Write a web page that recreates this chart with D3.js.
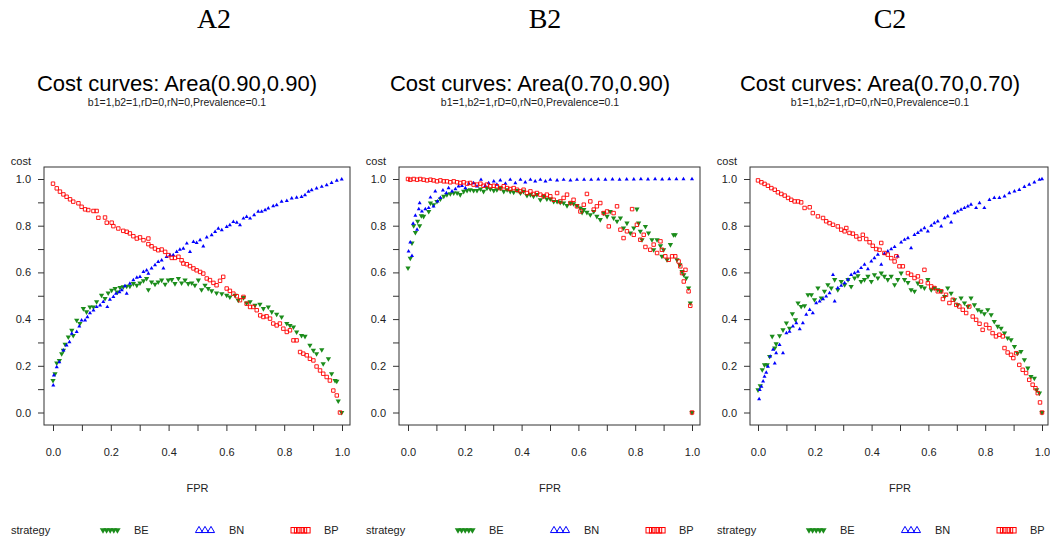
<!DOCTYPE html>
<html>
<head>
<meta charset="utf-8">
<script src="https://cdn.jsdelivr.net/npm/d3@7"></script>
<style>
  body { margin: 0; background: #fff; }
  text { font-family: "Liberation Sans", Arial, sans-serif; fill: #222; }
</style>
</head>
<body>
<script>
// strategies and panel labels
const strategies = ["BE", "BN", "BP"];
const panelLabels = ["A2", "B2", "C2"];
const panelTitles = ["Cost curves: Area(0.90,0.90)", "Cost curves: Area(0.70,0.90)", "Cost curves: Area(0.70,0.70)"];
const subTitle = "b1=1,b2=1,rD=0,rN=0,Prevalence=0.1";
const xTicks = [0, 0.1, 0.2, 0.3, 0.4, 0.5, 0.6, 0.7, 0.8, 0.9, 1.0];
const yTicks = [0, 0.1, 0.2, 0.3, 0.4, 0.5, 0.6, 0.7, 0.8, 0.9, 1.0];

// [FPR, cost]
const a2BE = [[0,0.137],[0.007,0.166],[0.013,0.212],[0.022,0.223],[0.03,0.252],[0.036,0.266],[0.042,0.292],[0.053,0.323],[0.065,0.352],[0.07,0.33],[0.082,0.395],[0.093,0.381],[0.105,0.445],[0.116,0.431],[0.128,0.452],[0.14,0.452],[0.151,0.474],[0.168,0.502],[0.18,0.488],[0.191,0.512],[0.203,0.524],[0.215,0.531],[0.223,0.516],[0.232,0.535],[0.243,0.538],[0.255,0.541],[0.266,0.541],[0.278,0.552],[0.29,0.545],[0.301,0.555],[0.313,0.564],[0.324,0.574],[0.33,0.526],[0.341,0.559],[0.353,0.549],[0.364,0.559],[0.376,0.567],[0.388,0.549],[0.399,0.567],[0.411,0.569],[0.422,0.552],[0.434,0.574],[0.445,0.555],[0.457,0.567],[0.468,0.552],[0.48,0.555],[0.491,0.545],[0.503,0.567],[0.514,0.526],[0.526,0.545],[0.537,0.531],[0.549,0.521],[0.566,0.512],[0.584,0.509],[0.601,0.502],[0.612,0.495],[0.63,0.502],[0.641,0.481],[0.659,0.492],[0.67,0.469],[0.682,0.474],[0.699,0.459],[0.716,0.464],[0.728,0.445],[0.745,0.452],[0.757,0.431],[0.774,0.421],[0.791,0.409],[0.809,0.381],[0.82,0.373],[0.832,0.366],[0.843,0.345],[0.86,0.33],[0.872,0.326],[0.889,0.288],[0.901,0.266],[0.912,0.252],[0.93,0.269],[0.935,0.209],[0.953,0.23],[0.964,0.166],[0.976,0.137],[0.982,0.134],[0.987,0.049],[0.999,0]];
const a2BN = [[0.001,0.116],[0.003,0.159],[0.013,0.195],[0.022,0.216],[0.036,0.266],[0.047,0.288],[0.057,0.302],[0.065,0.338],[0.082,0.345],[0.091,0.369],[0.099,0.395],[0.111,0.395],[0.119,0.409],[0.128,0.426],[0.14,0.438],[0.151,0.452],[0.163,0.459],[0.174,0.474],[0.188,0.452],[0.197,0.484],[0.209,0.495],[0.218,0.509],[0.23,0.516],[0.238,0.524],[0.249,0.541],[0.255,0.509],[0.266,0.552],[0.278,0.567],[0.29,0.578],[0.301,0.581],[0.313,0.602],[0.324,0.609],[0.33,0.595],[0.341,0.617],[0.353,0.631],[0.364,0.645],[0.376,0.652],[0.382,0.617],[0.393,0.667],[0.405,0.674],[0.416,0.674],[0.428,0.688],[0.439,0.698],[0.451,0.702],[0.463,0.724],[0.474,0.688],[0.486,0.731],[0.497,0.727],[0.509,0.738],[0.52,0.712],[0.532,0.75],[0.549,0.76],[0.561,0.774],[0.572,0.788],[0.584,0.781],[0.601,0.795],[0.612,0.803],[0.624,0.817],[0.636,0.813],[0.647,0.803],[0.659,0.831],[0.67,0.838],[0.682,0.831],[0.696,0.845],[0.71,0.86],[0.722,0.86],[0.734,0.867],[0.745,0.874],[0.762,0.884],[0.774,0.888],[0.791,0.903],[0.809,0.907],[0.826,0.917],[0.843,0.92],[0.86,0.924],[0.872,0.931],[0.884,0.946],[0.895,0.953],[0.912,0.96],[0.93,0.967],[0.947,0.974],[0.964,0.984],[0.982,0.993],[0.999,0.999]];
const a2BP = [[0,0.98],[0.013,0.96],[0.024,0.946],[0.036,0.934],[0.047,0.924],[0.059,0.913],[0.07,0.903],[0.088,0.896],[0.099,0.881],[0.111,0.87],[0.122,0.867],[0.14,0.863],[0.151,0.863],[0.157,0.834],[0.18,0.835],[0.186,0.813],[0.203,0.813],[0.209,0.798],[0.226,0.788],[0.243,0.778],[0.255,0.774],[0.266,0.767],[0.278,0.755],[0.29,0.745],[0.301,0.75],[0.313,0.738],[0.33,0.745],[0.33,0.721],[0.341,0.712],[0.353,0.702],[0.364,0.695],[0.376,0.698],[0.388,0.688],[0.399,0.674],[0.411,0.662],[0.422,0.662],[0.434,0.667],[0.445,0.652],[0.451,0.638],[0.463,0.635],[0.474,0.627],[0.486,0.617],[0.497,0.609],[0.509,0.602],[0.52,0.595],[0.532,0.574],[0.543,0.567],[0.555,0.555],[0.566,0.545],[0.578,0.564],[0.589,0.581],[0.601,0.531],[0.612,0.521],[0.624,0.509],[0.636,0.498],[0.647,0.481],[0.659,0.495],[0.67,0.466],[0.682,0.452],[0.693,0.452],[0.705,0.438],[0.717,0.416],[0.728,0.409],[0.739,0.412],[0.751,0.402],[0.762,0.381],[0.774,0.373],[0.785,0.381],[0.797,0.359],[0.809,0.345],[0.82,0.352],[0.832,0.309],[0.843,0.309],[0.855,0.259],[0.866,0.252],[0.878,0.245],[0.889,0.23],[0.901,0.223],[0.912,0.197],[0.924,0.18],[0.935,0.166],[0.947,0.152],[0.958,0.137],[0.97,0.094],[0.982,0.073],[0.993,0]];

const b2BE = [[0,0.619],[0.008,0.661],[0.014,0.726],[0.02,0.8],[0.026,0.771],[0.034,0.819],[0.041,0.8],[0.047,0.843],[0.055,0.84],[0.073,0.861],[0.079,0.897],[0.09,0.89],[0.102,0.904],[0.114,0.914],[0.126,0.926],[0.137,0.933],[0.149,0.937],[0.161,0.94],[0.173,0.94],[0.184,0.933],[0.196,0.947],[0.208,0.951],[0.219,0.954],[0.231,0.951],[0.243,0.951],[0.255,0.957],[0.266,0.947],[0.278,0.961],[0.29,0.957],[0.302,0.951],[0.313,0.954],[0.325,0.961],[0.337,0.947],[0.349,0.954],[0.36,0.947],[0.372,0.943],[0.384,0.951],[0.396,0.94],[0.407,0.947],[0.419,0.929],[0.431,0.933],[0.442,0.926],[0.454,0.933],[0.466,0.911],[0.478,0.926],[0.489,0.914],[0.501,0.914],[0.513,0.904],[0.525,0.904],[0.536,0.9],[0.548,0.897],[0.56,0.886],[0.572,0.897],[0.583,0.894],[0.595,0.886],[0.607,0.876],[0.613,0.857],[0.619,0.869],[0.63,0.857],[0.642,0.847],[0.654,0.861],[0.665,0.84],[0.677,0.826],[0.689,0.854],[0.701,0.84],[0.712,0.861],[0.724,0.833],[0.736,0.819],[0.748,0.833],[0.759,0.79],[0.771,0.811],[0.783,0.769],[0.795,0.79],[0.806,0.871],[0.812,0.811],[0.818,0.776],[0.824,0.74],[0.836,0.797],[0.847,0.769],[0.859,0.74],[0.865,0.697],[0.877,0.74],[0.889,0.714],[0.894,0.669],[0.9,0.697],[0.912,0.654],[0.924,0.719],[0.935,0.761],[0.941,0.761],[0.947,0.654],[0.957,0.633],[0.965,0.604],[0.971,0.59],[0.98,0.576],[0.988,0.533],[0.994,0.469],[1.0,0]];
const b2BN = [[0.002,0.69],[0.008,0.729],[0.014,0.671],[0.018,0.809],[0.026,0.843],[0.032,0.783],[0.038,0.871],[0.041,0.897],[0.049,0.861],[0.061,0.871],[0.073,0.876],[0.079,0.921],[0.09,0.883],[0.096,0.947],[0.104,0.904],[0.114,0.919],[0.123,0.951],[0.135,0.94],[0.143,0.961],[0.155,0.947],[0.167,0.957],[0.178,0.969],[0.19,0.971],[0.202,0.961],[0.214,0.98],[0.231,0.983],[0.243,0.969],[0.257,0.997],[0.272,0.971],[0.284,0.983],[0.302,0.99],[0.313,0.976],[0.325,0.994],[0.343,0.98],[0.36,0.997],[0.378,0.983],[0.396,0.997],[0.413,0.986],[0.431,0.997],[0.448,0.99],[0.466,0.997],[0.484,0.99],[0.501,0.997],[0.525,0.994],[0.548,0.997],[0.572,0.994],[0.595,0.997],[0.62,0.998],[0.645,0.997],[0.67,0.999],[0.695,0.998],[0.72,0.999],[0.745,0.998],[0.77,0.999],[0.795,0.999],[0.82,1.0],[0.845,0.999],[0.87,1.0],[0.895,0.999],[0.92,1.0],[0.945,1.0],[0.97,1.0],[1.0,1.0]];
const b2BP = [[0,1.0],[0.008,0.997],[0.02,1.0],[0.032,0.997],[0.043,1.0],[0.055,0.997],[0.067,0.994],[0.079,0.997],[0.09,0.994],[0.102,0.99],[0.114,0.994],[0.126,0.99],[0.137,0.99],[0.149,0.986],[0.161,0.99],[0.173,0.986],[0.184,0.983],[0.196,0.986],[0.208,0.98],[0.219,0.983],[0.231,0.976],[0.243,0.976],[0.255,0.98],[0.266,0.971],[0.278,0.976],[0.29,0.969],[0.302,0.971],[0.313,0.969],[0.325,0.961],[0.337,0.969],[0.349,0.961],[0.36,0.957],[0.372,0.961],[0.384,0.954],[0.396,0.947],[0.407,0.954],[0.419,0.94],[0.431,0.947],[0.442,0.936],[0.454,0.94],[0.466,0.933],[0.478,0.926],[0.489,0.933],[0.501,0.926],[0.513,0.911],[0.525,0.94],[0.536,0.904],[0.548,0.919],[0.56,0.933],[0.572,0.897],[0.583,0.911],[0.595,0.883],[0.607,0.861],[0.619,0.89],[0.63,0.936],[0.642,0.904],[0.654,0.869],[0.665,0.883],[0.677,0.897],[0.689,0.854],[0.701,0.861],[0.707,0.797],[0.724,0.854],[0.736,0.883],[0.748,0.783],[0.759,0.747],[0.771,0.776],[0.789,0.871],[0.795,0.761],[0.806,0.804],[0.818,0.74],[0.83,0.761],[0.836,0.709],[0.853,0.697],[0.865,0.719],[0.877,0.683],[0.889,0.733],[0.894,0.697],[0.906,0.669],[0.918,0.654],[0.93,0.669],[0.941,0.669],[0.953,0.647],[0.959,0.626],[0.965,0.597],[0.971,0.561],[0.977,0.611],[0.988,0.519],[0.994,0.457],[1.0,0]];

const c2BE = [[0,0.097],[0.008,0.114],[0.015,0.183],[0.023,0.204],[0.032,0.204],[0.041,0.24],[0.05,0.326],[0.059,0.276],[0.064,0.294],[0.076,0.329],[0.088,0.354],[0.1,0.383],[0.111,0.361],[0.121,0.423],[0.132,0.397],[0.141,0.469],[0.152,0.454],[0.164,0.457],[0.176,0.504],[0.188,0.504],[0.199,0.483],[0.211,0.533],[0.223,0.49],[0.234,0.519],[0.246,0.547],[0.258,0.533],[0.27,0.569],[0.281,0.526],[0.293,0.561],[0.305,0.547],[0.317,0.569],[0.328,0.54],[0.34,0.576],[0.352,0.586],[0.363,0.561],[0.375,0.569],[0.387,0.583],[0.399,0.561],[0.41,0.59],[0.422,0.576],[0.434,0.597],[0.445,0.583],[0.457,0.569],[0.469,0.583],[0.481,0.547],[0.492,0.569],[0.504,0.597],[0.516,0.569],[0.528,0.557],[0.539,0.526],[0.551,0.519],[0.563,0.554],[0.574,0.54],[0.586,0.533],[0.598,0.569],[0.61,0.526],[0.621,0.533],[0.633,0.526],[0.645,0.519],[0.657,0.497],[0.668,0.533],[0.68,0.511],[0.692,0.483],[0.703,0.461],[0.715,0.49],[0.727,0.469],[0.739,0.454],[0.75,0.49],[0.762,0.461],[0.774,0.44],[0.785,0.433],[0.797,0.423],[0.809,0.44],[0.821,0.419],[0.832,0.39],[0.844,0.369],[0.856,0.361],[0.868,0.34],[0.879,0.319],[0.891,0.311],[0.903,0.283],[0.914,0.254],[0.926,0.261],[0.938,0.226],[0.95,0.19],[0.961,0.154],[0.973,0.147],[0.981,0.097],[0.991,0.083],[1.0,0]];
const c2BN = [[0.004,0.057],[0.006,0.097],[0.012,0.111],[0.018,0.133],[0.023,0.154],[0.029,0.171],[0.035,0.197],[0.043,0.24],[0.053,0.269],[0.059,0.211],[0.064,0.254],[0.076,0.29],[0.088,0.254],[0.1,0.34],[0.111,0.347],[0.123,0.369],[0.135,0.383],[0.147,0.357],[0.158,0.383],[0.17,0.419],[0.182,0.44],[0.193,0.426],[0.205,0.469],[0.217,0.476],[0.229,0.486],[0.24,0.497],[0.252,0.511],[0.264,0.59],[0.27,0.476],[0.281,0.533],[0.293,0.543],[0.305,0.554],[0.317,0.569],[0.328,0.59],[0.34,0.597],[0.352,0.604],[0.363,0.619],[0.375,0.633],[0.387,0.614],[0.399,0.647],[0.41,0.661],[0.422,0.676],[0.434,0.633],[0.445,0.68],[0.457,0.69],[0.469,0.7],[0.481,0.709],[0.492,0.669],[0.504,0.729],[0.516,0.74],[0.528,0.747],[0.539,0.704],[0.551,0.761],[0.563,0.769],[0.574,0.78],[0.586,0.79],[0.598,0.776],[0.61,0.8],[0.621,0.811],[0.633,0.819],[0.645,0.797],[0.657,0.833],[0.668,0.84],[0.68,0.814],[0.692,0.854],[0.703,0.861],[0.715,0.869],[0.727,0.876],[0.739,0.883],[0.75,0.89],[0.768,0.876],[0.78,0.897],[0.797,0.876],[0.815,0.911],[0.832,0.919],[0.85,0.919],[0.868,0.926],[0.885,0.94],[0.903,0.947],[0.92,0.954],[0.938,0.966],[0.955,0.976],[0.973,0.986],[0.991,0.997],[1.0,1.0]];
const c2BP = [[0,0.994],[0.012,0.986],[0.023,0.979],[0.035,0.971],[0.047,0.961],[0.059,0.954],[0.07,0.943],[0.082,0.936],[0.094,0.929],[0.106,0.919],[0.117,0.911],[0.129,0.904],[0.141,0.904],[0.152,0.9],[0.164,0.876],[0.182,0.879],[0.193,0.854],[0.211,0.84],[0.229,0.833],[0.24,0.819],[0.252,0.811],[0.264,0.804],[0.281,0.797],[0.293,0.783],[0.305,0.776],[0.311,0.79],[0.322,0.769],[0.334,0.766],[0.346,0.754],[0.358,0.743],[0.369,0.761],[0.381,0.743],[0.393,0.729],[0.404,0.714],[0.416,0.7],[0.428,0.697],[0.434,0.726],[0.445,0.683],[0.457,0.676],[0.469,0.661],[0.481,0.647],[0.487,0.669],[0.498,0.626],[0.51,0.626],[0.528,0.597],[0.539,0.59],[0.551,0.576],[0.563,0.583],[0.574,0.561],[0.586,0.611],[0.598,0.554],[0.61,0.54],[0.621,0.533],[0.633,0.519],[0.645,0.519],[0.651,0.486],[0.662,0.504],[0.674,0.469],[0.686,0.483],[0.698,0.461],[0.709,0.454],[0.721,0.44],[0.733,0.426],[0.744,0.454],[0.756,0.411],[0.768,0.397],[0.78,0.38],[0.791,0.354],[0.803,0.376],[0.815,0.361],[0.826,0.34],[0.838,0.326],[0.85,0.333],[0.862,0.326],[0.868,0.276],[0.879,0.257],[0.891,0.247],[0.899,0.233],[0.909,0.254],[0.92,0.204],[0.932,0.183],[0.944,0.169],[0.955,0.14],[0.967,0.119],[0.977,0.104],[0.985,0.083],[0.993,0.043],[1.0,0]];

const seriesByPanel = [[a2BE, a2BN, a2BP], [b2BE, b2BN, b2BP], [c2BE, c2BN, c2BP]];

// colours per strategy
const colors = { BE: "#1b8c1b", BN: "#0000ff", BP: "#ff0000" };

// panel placement on the page
const layout = [
    { boxL: 44, boxR: 350, x0: 53, x1: 342, labelX: 214, titleX: 177 },
    { boxL: 399, boxR: 700, x0: 408, x1: 692, labelX: 545, titleX: 530 },
    { boxL: 750, boxR: 1048, x0: 758, x1: 1042, labelX: 890, titleX: 880 }
];
const boxTop = 167, boxBottom = 425;

const svg = d3.select("body").append("svg")
    .attr("width", 1050)
    .attr("height", 541);

const y = d3.scaleLinear().domain([0, 1]).range([412.5, 179]);
const fmt = d3.format(".1f");
const even = d => Math.round(d * 10) % 2 === 0;

const triUp = d3.symbol().type(d3.symbolTriangle).size(7);
const triDown = d3.symbol().type(d3.symbolTriangle).size(12);
const square = d3.symbol().type(d3.symbolSquare).size(12);

panelLabels.forEach((label, i) => {
    const L = layout[i];
    const x = d3.scaleLinear().domain([0, 1]).range([L.x0, L.x1]);
    const g = svg.append("g");

    // big panel label
    g.append("text")
        .attr("x", L.labelX).attr("y", 28)
        .attr("text-anchor", "middle")
        .style("font-family", "'Liberation Serif', 'Times New Roman', serif")
        .style("font-size", "28px")
        .style("fill", "#000")
        .text(label);

    // title and sub title
    g.append("text")
        .attr("x", L.titleX).attr("y", 91)
        .attr("text-anchor", "middle")
        .style("font-size", "22px")
        .style("fill", "#000")
        .text(panelTitles[i]);
    g.append("text")
        .attr("x", L.titleX).attr("y", 106)
        .attr("text-anchor", "middle")
        .style("font-size", "10.5px")
        .text(subTitle);

    // frame
    g.append("rect")
        .attr("x", L.boxL).attr("y", boxTop)
        .attr("width", L.boxR - L.boxL).attr("height", boxBottom - boxTop)
        .attr("fill", "none").attr("stroke", "#333").attr("stroke-width", 1);

    // axes
    const yAxis = g.append("g")
        .attr("transform", `translate(${L.boxL},0)`)
        .call(d3.axisLeft(y).tickValues(yTicks).tickSize(6).tickPadding(7)
            .tickFormat(d => even(d) ? fmt(d) : ""));
    const xAxis = g.append("g")
        .attr("transform", `translate(0,${boxBottom})`)
        .call(d3.axisBottom(x).tickValues(xTicks).tickSize(6).tickPadding(17)
            .tickFormat(d => even(d) ? fmt(d) : ""));
    [yAxis, xAxis].forEach(a => {
        a.select(".domain").remove();
        a.selectAll("line").attr("stroke", "#333");
        a.selectAll("text")
            .style("font-size", "11px")
            .style("font-family", "'Liberation Sans', Arial, sans-serif")
            .attr("fill", "#222");
    });

    g.append("text")
        .attr("x", L.boxL - 13).attr("y", 165)
        .attr("text-anchor", "end")
        .style("font-size", "11px")
        .text("cost");
    g.append("text")
        .attr("x", x(0.5)).attr("y", 492)
        .attr("text-anchor", "middle")
        .style("font-size", "11px")
        .text("FPR");

    // points, BE then BN then BP
    strategies.forEach((s, k) => {
        const pts = g.append("g").selectAll("path")
            .data(seriesByPanel[i][k])
            .join("path");
        if (s === "BE") {
            pts.attr("d", triDown)
                .attr("transform", d => `translate(${x(d[0])},${y(d[1])}) rotate(180)`)
                .attr("fill", colors.BE);
        } else if (s === "BN") {
            pts.attr("d", triUp)
                .attr("transform", d => `translate(${x(d[0])},${y(d[1])})`)
                .attr("fill", colors.BN);
        } else {
            pts.attr("d", square)
                .attr("transform", d => `translate(${x(d[0])},${y(d[1])})`)
                .attr("fill", "none")
                .attr("stroke", colors.BP)
                .attr("stroke-width", 0.9);
        }
    });

    // legend along the bottom
    const leg = g.append("g").attr("transform", `translate(${L.boxL},530)`);
    leg.append("text").attr("x", -33).attr("y", 4).style("font-size", "11px").text("strategy");
    const offs = [57, 152, 247];
    strategies.forEach((s, k) => {
        const kg = leg.append("g").attr("transform", `translate(${offs[k]},0)`);
        [0, 1, 2, 3, 4].forEach(j => {
            if (s === "BE") {
                kg.append("path").attr("d", d3.symbol().type(d3.symbolTriangle).size(18))
                    .attr("transform", `translate(${2 + j * 3.6},0) rotate(180)`)
                    .attr("fill", colors.BE);
            } else if (s === "BP") {
                kg.append("rect").attr("x", j * 3.4).attr("y", -2.5)
                    .attr("width", 5.5).attr("height", 5.5)
                    .attr("fill", "none").attr("stroke", colors.BP);
            } else if (j < 3) {
                kg.append("path").attr("d", d3.symbol().type(d3.symbolTriangle).size(22))
                    .attr("transform", `translate(${3 + j * 6},0.5)`)
                    .attr("fill", "none").attr("stroke", colors.BN);
            }
        });
        leg.append("text").attr("x", offs[k] + 33).attr("y", 4)
            .style("font-size", "11px").text(s);
    });
});
</script>
</body>
</html>
